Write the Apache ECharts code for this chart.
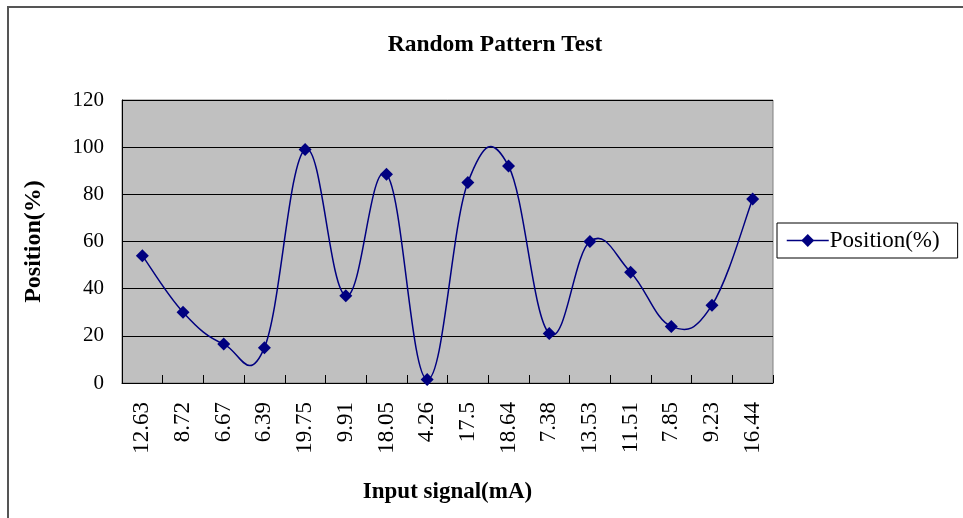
<!DOCTYPE html>
<html>
<head>
<meta charset="utf-8">
<script src="https://cdn.jsdelivr.net/npm/echarts@6/dist/echarts.min.js"></script>
<style>
  html, body { margin: 0; padding: 0; background: #fff; }
  #chart { width: 963px; height: 518px; }
</style>
</head>
<body>
<div id="chart"></div>
<script>
var categories = ['12.63', '8.72', '6.67', '6.39', '19.75', '9.91', '18.05', '4.26',
  '17.5', '18.64', '7.38', '13.53', '11.51', '7.85', '9.23', '16.44'];
var positions = [54, 30, 16.5, 15, 99, 37, 88.5, 1.5, 85, 92, 21, 60, 47, 24, 33, 78];
var yTicks = [0, 20, 40, 60, 80, 100, 120];

var serif = '"Liberation Serif", "Times New Roman", serif';
var navy = '#000080';

// Excel-like smoothed line: cardinal spline through the points
function curvePoint(api, i) {
  var n = positions.length;
  i = Math.max(0, Math.min(n - 1, i));
  return api.coord([i, api.value(1, i)]);
}
function renderCurve(params, api) {
  var i = params.dataIndexInside;
  if (i >= positions.length - 1) return null;
  var p0 = curvePoint(api, i - 1), p1 = curvePoint(api, i);
  var p2 = curvePoint(api, i + 1), p3 = curvePoint(api, i + 2);
  var k = 1 / 5;
  return {
    type: 'bezierCurve',
    shape: {
      x1: p1[0], y1: p1[1], x2: p2[0], y2: p2[1],
      cpx1: p1[0] + (p2[0] - p0[0]) * k, cpy1: p1[1] + (p2[1] - p0[1]) * k,
      cpx2: p2[0] - (p3[0] - p1[0]) * k, cpy2: p2[1] - (p3[1] - p1[1]) * k
    },
    style: { stroke: navy, lineWidth: 1.5, fill: 'none' }
  };
}

var chart = echarts.init(document.getElementById('chart'));
var option = {
  backgroundColor: '#fff',
  animation: false,
  title: {
    text: 'Random Pattern Test',
    left: 490, top: 28,
    textAlign: 'center',
    textStyle: { fontFamily: serif, fontWeight: 'bold', fontSize: 23.5, color: '#000' }
  },
  graphic: [{
    type: 'rect',
    shape: { x: 8, y: 7, width: 1000, height: 600 },
    style: { fill: 'none', stroke: '#555', lineWidth: 2 }
  }],
  legend: {
    data: ['Position(%)'],
    orient: 'vertical',
    left: 777, top: 223,
    padding: [6, 18, 6, 9],
    borderColor: '#000', borderWidth: 1,
    backgroundColor: '#fff',
    itemWidth: 42, itemHeight: 16,
    lineStyle: { color: navy, width: 1.5, opacity: 1 },
    itemStyle: { color: navy },
    textStyle: { fontFamily: serif, fontSize: 23, color: '#000', padding: [0, 0, 0, -4] }
  },
  grid: {
    left: 122, top: 100, width: 651, height: 283,
    show: true,
    backgroundColor: '#C0C0C0',
    borderColor: '#808080', borderWidth: 1
  },
  xAxis: {
    type: 'category',
    data: categories,
    boundaryGap: true,
    name: 'Input signal(mA)',
    nameLocation: 'middle',
    nameGap: 98,
    nameTextStyle: { fontFamily: serif, fontWeight: 'bold', fontSize: 23, color: '#000' },
    axisLine: { lineStyle: { color: '#000', width: 1 } },
    axisTick: { show: true, inside: true, length: 8, lineStyle: { color: '#000' } },
    axisLabel: {
      rotate: 90, margin: 19,
      fontFamily: serif, fontSize: 23, color: '#000'
    },
    splitLine: { show: false }
  },
  yAxis: {
    type: 'value',
    min: yTicks[0], max: yTicks[yTicks.length - 1], interval: 20,
    name: 'Position(%)',
    nameLocation: 'middle',
    nameGap: 76,
    nameTextStyle: { fontFamily: serif, fontWeight: 'bold', fontSize: 24, color: '#000' },
    axisLine: { show: true, lineStyle: { color: '#000', width: 1 } },
    axisTick: { show: false },
    axisLabel: { margin: 18, fontFamily: serif, fontSize: 21, color: '#000' },
    splitLine: { show: true, lineStyle: { color: '#000', width: 1.2 } }
  },
  series: [{
    name: 'curve',
    type: 'custom',
    clip: true,
    data: positions.map(function (v, i) { return [i, v]; }),
    encode: { x: 0, y: 1 },
    renderItem: renderCurve,
    silent: true
  }, {
    name: 'Position(%)',
    type: 'line',
    data: positions,
    symbol: 'diamond',
    symbolSize: 13,
    lineStyle: { color: navy, width: 1.5, opacity: 0 },
    itemStyle: { color: navy }
  }]
};
chart.setOption(option);
</script>
</body>
</html>
